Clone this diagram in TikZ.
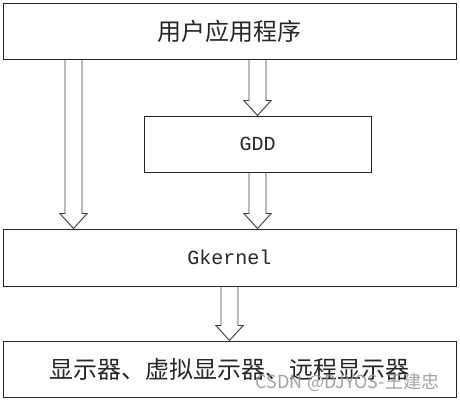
\documentclass[tikz,border=0pt]{standalone}
\usepackage{fontspec}
\newfontfamily\cjk{Noto Sans CJK SC}
\newfontfamily\monofnt{Liberation Mono}
\usetikzlibrary{calc}
\begin{document}
\begin{tikzpicture}[x=0.75pt,y=0.75pt,
  box/.style={draw=black!85,line width=0.7pt,rectangle,inner sep=0pt},
  bigtext/.style={font=\cjk\fontsize{18pt}{20pt}\selectfont,text=black!85},
  latin/.style={font=\monofnt\fontsize{15pt}{17pt}\selectfont,text=black!85},
  hollow/.style={draw=black!75,line width=0.7pt,
    to path={let \p1=(\tikztostart), \p2=(\tikztotarget) in
      (\x1-6.375pt,\y1) -- (\x1-6.375pt,\y2+11.25pt) -- (\x1-10.2pt,\y2+11.25pt)
      -- (\x1,\y2) -- (\x1+10.2pt,\y2+11.25pt) -- (\x1+6.375pt,\y2+11.25pt) -- (\x1+6.375pt,\y1)}}
]
\useasboundingbox (0,0) rectangle (460,402);
\node[box,minimum width=453*0.75pt,minimum height=56*0.75pt,bigtext] (app) at (229.5,371) {用户应用程序};
\node[box,minimum width=227*0.75pt,minimum height=56*0.75pt,latin] (gdd) at (257.5,258) {GDD};
\node[box,minimum width=453*0.75pt,minimum height=57*0.75pt,latin] (gk) at (229.5,144.5) {Gkernel};
\node[box,minimum width=453*0.75pt,minimum height=56*0.75pt,bigtext] (disp) at (229.5,33) {显示器、虚拟显示器、远程显示器};
\coordinate (lx) at (73.5,0);
\draw[hollow] (app.south -| lx) to (gk.north -| lx);
\draw[hollow] (app.south -| gdd.north) to (gdd.north);
\draw[hollow] (gdd.south) to (gdd.south |- gk.north);
\draw[hollow] (gk.south) to (disp.north);
\node[font=\cjk\fontsize{13.5pt}{15pt}\selectfont,text=black!40,opacity=0.9] (wm) at (347.5,19) {CSDN @DJYOS-王建忠};
\end{tikzpicture}
\end{document}
